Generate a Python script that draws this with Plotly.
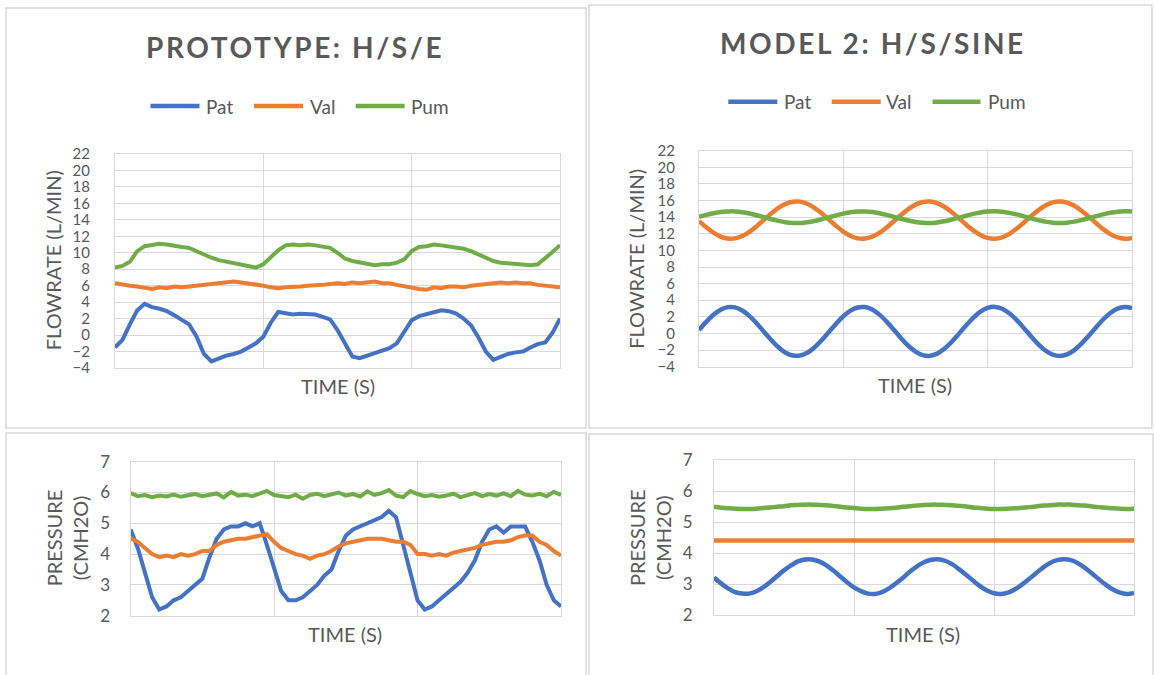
import plotly.graph_objects as go

W, H = 1154, 675

# ---------------- DATA ----------------
series_names = ["Pat", "Val", "Pum"]
series_colors = ["#4472C4", "#ED7D31", "#70AD47"]
chart_titles = ["PROTOTYPE: H/S/E", "MODEL 2: H/S/SINE"]
flow_axis_title = "FLOWRATE (L/MIN)"
pressure_axis_title = "PRESSURE<br>(CMH2O)"
time_axis_title = "TIME (S)"
flow_ticks = [-4, -2, 0, 2, 4, 6, 8, 10, 12, 14, 16, 18, 20, 22]
pressure_ticks = [2, 3, 4, 5, 6, 7]

proto_flow_pat = [-1.5, -0.6, 1.3, 3.0, 3.8, 3.4, 3.2, 2.9, 2.4, 1.9,
                  1.3, -0.2, -2.3, -3.2, -2.8, -2.5, -2.3, -2.0, -1.5, -1.0,
                  -0.2, 1.5, 2.8, 2.6, 2.5, 2.6, 2.6, 2.5, 2.2, 1.9,
                  0.6, -1.0, -2.6, -2.8, -2.5, -2.2, -2.0, -1.6, -1.0, 0.3,
                  1.8, 2.3, 2.5, 2.7, 3.0, 2.9, 2.6, 2.0, 1.2, -0.3,
                  -2.0, -3.0, -2.6, -2.3, -2.1, -2.0, -1.5, -1.1, -0.9, 0.3,
                  2.0]
proto_flow_val = [6.3, 6.1, 6.0, 5.9, 5.8, 5.6, 5.8, 5.7, 5.9, 5.8,
                  5.9, 6.0, 6.1, 6.2, 6.2, 6.4, 6.5, 6.4, 6.3, 6.1,
                  6.0, 5.8, 5.7, 5.8, 5.8, 5.9, 6.0, 6.0, 6.1, 6.2,
                  6.3, 6.2, 6.4, 6.3, 6.4, 6.5, 6.3, 6.3, 6.1, 5.9,
                  5.7, 5.6, 5.5, 5.8, 5.7, 5.9, 5.9, 5.8, 6.0, 6.1,
                  6.2, 6.3, 6.4, 6.3, 6.4, 6.3, 6.3, 6.1, 6.0, 5.9,
                  5.8]
proto_flow_pum = [8.2, 8.4, 8.9, 10.2, 10.8, 11.0, 11.1, 11.0, 10.8, 10.7,
                  10.6, 10.2, 9.7, 9.4, 9.1, 8.9, 8.7, 8.6, 8.3, 8.2,
                  8.6, 9.4, 10.3, 10.9, 11.0, 10.9, 11.0, 10.9, 10.8, 10.6,
                  10.0, 9.3, 9.0, 8.8, 8.6, 8.5, 8.6, 8.6, 8.8, 9.2,
                  10.2, 10.7, 10.8, 11.0, 10.9, 10.8, 10.7, 10.5, 10.2, 9.8,
                  9.3, 9.0, 8.8, 8.7, 8.7, 8.6, 8.5, 8.6, 9.3, 10.1,
                  10.9]

model2_flow_pat = [0.41, 1.39, 2.25, 2.86, 3.17, 3.14, 2.76, 2.09, 1.21, 0.21,
                   -0.79, -1.66, -2.31, -2.65, -2.66, -2.32, -1.68, -0.81, 0.18, 1.18,
                   2.07, 2.75, 3.13, 3.18, 2.88, 2.27, 1.42, 0.44, -0.57, -1.48,
                   -2.18, -2.60, -2.69, -2.43, -1.85, -1.03, -0.05, 0.96, 1.88, 2.62,
                   3.07, 3.20, 2.97, 2.43, 1.63, 0.67, -0.34, -1.28, -2.05, -2.54,
                   -2.70, -2.52, -2.01, -1.23, -0.28, 0.73, 1.68, 2.47, 3.00, 3.20,
                   3.05]
model2_flow_val = [13.53, 12.78, 12.13, 11.66, 11.42, 11.45, 11.73, 12.24, 12.92, 13.68,
                   14.44, 15.11, 15.60, 15.86, 15.87, 15.61, 15.12, 14.46, 13.70, 12.94,
                   12.26, 11.74, 11.45, 11.42, 11.65, 12.11, 12.76, 13.51, 14.27, 14.97,
                   15.51, 15.83, 15.89, 15.69, 15.25, 14.62, 13.88, 13.11, 12.41, 11.85,
                   11.50, 11.40, 11.57, 11.99, 12.60, 13.33, 14.10, 14.82, 15.40, 15.78,
                   15.90, 15.76, 15.37, 14.78, 14.06, 13.29, 12.56, 11.96, 11.56, 11.40,
                   11.51]
model2_flow_pum = [14.04, 14.27, 14.47, 14.62, 14.69, 14.69, 14.60, 14.44, 14.23, 13.99,
                   13.75, 13.55, 13.39, 13.31, 13.31, 13.39, 13.54, 13.75, 13.98, 14.22,
                   14.43, 14.59, 14.68, 14.69, 14.62, 14.48, 14.28, 14.04, 13.81, 13.59,
                   13.42, 13.32, 13.30, 13.37, 13.50, 13.70, 13.93, 14.17, 14.39, 14.56,
                   14.67, 14.70, 14.65, 14.52, 14.33, 14.10, 13.86, 13.64, 13.46, 13.34,
                   13.30, 13.34, 13.46, 13.65, 13.87, 14.11, 14.34, 14.53, 14.65, 14.70,
                   14.67]

proto_pres_pat = [4.8, 4.2, 3.4, 2.6, 2.2, 2.3, 2.5, 2.6, 2.8, 3.0,
                  3.2, 3.9, 4.5, 4.8, 4.9, 4.9, 5.0, 4.9, 5.0, 4.3,
                  3.5, 2.8, 2.5, 2.5, 2.6, 2.8, 3.0, 3.3, 3.5, 4.1,
                  4.6, 4.8, 4.9, 5.0, 5.1, 5.2, 5.4, 5.2, 4.3, 3.4,
                  2.5, 2.2, 2.3, 2.5, 2.7, 2.9, 3.1, 3.4, 3.8, 4.4,
                  4.8, 4.9, 4.7, 4.9, 4.9, 4.9, 4.4, 3.8, 3.0, 2.5,
                  2.3]
proto_pres_val = [4.5, 4.4, 4.2, 4.0, 3.9, 3.95, 3.9, 4.0, 3.95, 4.0,
                  4.1, 4.1, 4.3, 4.4, 4.45, 4.5, 4.5, 4.55, 4.6, 4.65,
                  4.4, 4.2, 4.1, 4.0, 3.95, 3.85, 3.95, 4.0, 4.1, 4.25,
                  4.35, 4.4, 4.45, 4.5, 4.5, 4.5, 4.45, 4.4, 4.4, 4.3,
                  4.0, 4.0, 3.95, 4.0, 3.95, 4.05, 4.1, 4.15, 4.2, 4.3,
                  4.35, 4.4, 4.4, 4.45, 4.55, 4.6, 4.6, 4.4, 4.3, 4.1,
                  3.95]
proto_pres_pum = [5.98, 5.88, 5.92, 5.85, 5.90, 5.87, 5.93, 5.86, 5.91, 5.95,
                  5.88, 5.92, 5.97, 5.84, 6.02, 5.90, 5.93, 5.88, 5.96, 6.05,
                  5.92, 5.88, 5.85, 5.93, 5.80, 5.92, 5.96, 5.88, 5.94, 6.00,
                  5.90, 5.95, 5.87, 6.04, 5.92, 5.98, 6.08, 5.90, 5.85, 6.05,
                  5.95, 5.88, 5.92, 5.86, 5.90, 5.96, 5.85, 5.93, 5.98, 5.88,
                  5.95, 5.90, 5.97, 5.88, 6.05, 5.93, 5.90, 5.96, 5.88, 6.02,
                  5.92]

model2_pres_pat = [3.21, 3.02, 2.86, 2.74, 2.69, 2.69, 2.76, 2.89, 3.06, 3.25,
                   3.44, 3.60, 3.73, 3.79, 3.79, 3.73, 3.61, 3.44, 3.25, 3.06,
                   2.89, 2.77, 2.69, 2.68, 2.74, 2.86, 3.02, 3.20, 3.40, 3.57,
                   3.70, 3.78, 3.80, 3.75, 3.64, 3.48, 3.30, 3.11, 2.93, 2.79,
                   2.70, 2.68, 2.72, 2.83, 2.98, 3.16, 3.35, 3.53, 3.68, 3.77,
                   3.80, 3.77, 3.67, 3.52, 3.34, 3.15, 2.97, 2.82, 2.72, 2.68,
                   2.71]
model2_pres_val = [4.4, 4.4, 4.4, 4.4, 4.4, 4.4, 4.4, 4.4, 4.4, 4.4,
                   4.4, 4.4, 4.4, 4.4, 4.4, 4.4, 4.4, 4.4, 4.4, 4.4,
                   4.4, 4.4, 4.4, 4.4, 4.4, 4.4, 4.4, 4.4, 4.4, 4.4,
                   4.4, 4.4, 4.4, 4.4, 4.4, 4.4, 4.4, 4.4, 4.4, 4.4,
                   4.4, 4.4, 4.4, 4.4, 4.4, 4.4, 4.4, 4.4, 4.4, 4.4,
                   4.4, 4.4, 4.4, 4.4, 4.4, 4.4, 4.4, 4.4, 4.4, 4.4,
                   4.4]
model2_pres_pum = [5.49, 5.46, 5.44, 5.43, 5.42, 5.42, 5.43, 5.45, 5.47, 5.49,
                   5.51, 5.54, 5.55, 5.56, 5.56, 5.55, 5.54, 5.52, 5.49, 5.47,
                   5.45, 5.43, 5.42, 5.42, 5.43, 5.44, 5.46, 5.49, 5.51, 5.53,
                   5.55, 5.56, 5.56, 5.55, 5.54, 5.52, 5.50, 5.47, 5.45, 5.43,
                   5.42, 5.42, 5.43, 5.44, 5.46, 5.48, 5.50, 5.53, 5.54, 5.56,
                   5.56, 5.56, 5.54, 5.53, 5.50, 5.48, 5.46, 5.44, 5.43, 5.42,
                   5.43]

# ---------------- STYLE / LAYOUT ----------------
FONT = "Lato, 'Open Sans', sans-serif"
TXT = "#595959"
GRID = "#D9D9D9"


def px(x):
    return x / W


def py(y):
    return 1 - y / H


fig = go.Figure()

panels = [
    # (suffix, data, smooth, plot box px (l, r, t, b), yticks, line width, label standoff, tick size)
    ("", [proto_flow_pat, proto_flow_val, proto_flow_pum], False, (115, 560, 154, 368), flow_ticks, 4, 21, 15),
    ("2", [model2_flow_pat, model2_flow_val, model2_flow_pum], True, (699, 1132, 150.7, 366.7), flow_ticks, 4.5, 20, 15),
    ("3", [proto_pres_pat, proto_pres_val, proto_pres_pum], False, (130.6, 561, 461.7, 615.7), pressure_ticks, 4, 16, 17),
    ("4", [model2_pres_pat, model2_pres_val, model2_pres_pum], True, (714, 1134, 460, 615), pressure_ticks, 4.5, 17, 17),
]

layout_axes = {}
for suf, data, smooth, (l, r, t, b), yt, lw, stand, tsize in panels:
    xname = "x" + suf
    yname = "y" + suf
    n = len(data[0])
    for name, col, vals in zip(series_names, series_colors, data):
        fig.add_trace(go.Scatter(
            x=list(range(len(vals))), y=vals, name=name, mode="lines",
            line=dict(color=col, width=lw, shape="spline" if smooth else "linear"),
            xaxis=xname, yaxis=yname, showlegend=False,
        ))
    layout_axes["xaxis" + suf] = dict(
        domain=[px(l), px(r)], anchor=yname, range=[0, n - 1],
        tickvals=[0, (n - 1) / 3, 2 * (n - 1) / 3, n - 1], showticklabels=False,
        showgrid=True, gridcolor=GRID, gridwidth=1, zeroline=False,
        showline=True, linecolor=GRID, linewidth=1, mirror=True, ticks="",
        fixedrange=True, automargin=False,
    )
    layout_axes["yaxis" + suf] = dict(
        domain=[py(b), py(t)], anchor=xname, range=[yt[0], yt[-1]],
        tickvals=yt, showgrid=True, gridcolor=GRID, gridwidth=1, zeroline=False,
        showline=True, linecolor=GRID, linewidth=1, mirror=True, ticks="",
        tickfont=dict(family=FONT, size=tsize, color=TXT),
        ticklabelstandoff=stand, fixedrange=True, automargin=False,
    )

annotations = []
# chart titles
for title, (cx, cy) in zip(chart_titles, [(295, 47.3), (873, 43)]):
    annotations.append(dict(
        text='<b><span style="letter-spacing:2.6px">' + title + '</span></b>',
        x=px(cx), y=py(cy), xref="paper", yref="paper", showarrow=False,
        xanchor="center", yanchor="middle",
        font=dict(family=FONT, size=28, color=TXT),
    ))
# axis titles
for text, (cx, cy) in [(flow_axis_title, (52.7, 260.5)), (flow_axis_title, (635.8, 259)),
                       (pressure_axis_title, (66.8, 537.5)), (pressure_axis_title, (649.5, 537.5))]:
    annotations.append(dict(
        text=text, x=px(cx), y=py(cy), xref="paper", yref="paper", showarrow=False,
        xanchor="center", yanchor="middle", textangle=-90, align="center",
        font=dict(family=FONT, size=20, color=TXT),
    ))
for cx, cy in [(338, 386.5), (914.6, 385), (345.3, 634.3), (923, 634.3)]:
    annotations.append(dict(
        text=time_axis_title, x=px(cx), y=py(cy), xref="paper", yref="paper",
        showarrow=False, xanchor="center", yanchor="middle",
        font=dict(family=FONT, size=20, color=TXT),
    ))

shapes = []
# legends (drawn with line keys + text)
legend_specs = [
    (106, [(150.5, 199.5, 205), (254, 303, 309), (355.7, 404.6, 410)]),
    (101.7, [(728.3, 777.3, 782.7), (831.7, 880.7, 885.4), (932.6, 980.5, 987)]),
]
for ly, items in legend_specs:
    for (x0, x1, tx), name, col in zip(items, series_names, series_colors):
        shapes.append(dict(type="line", xref="paper", yref="paper",
                           x0=px(x0), x1=px(x1), y0=py(ly), y1=py(ly),
                           line=dict(color=col, width=4.5)))
        annotations.append(dict(
            text=name, x=px(tx), y=py(ly), xref="paper", yref="paper",
            showarrow=False, xanchor="left", yanchor="middle", borderpad=0,
            font=dict(family=FONT, size=19, color=TXT),
        ))

# panel frames
for (l, r, t, b) in [(6, 586, 8, 428), (589, 1152, 5, 428), (6, 586, 433, 676), (589, 1153, 434, 676)]:
    shapes.append(dict(type="rect", xref="paper", yref="paper",
                       x0=px(l), x1=px(r), y0=py(b), y1=py(t),
                       line=dict(color=GRID, width=1.5), layer="below"))

fig.update_layout(
    width=W, height=H, margin=dict(l=0, r=0, t=0, b=0, pad=0, autoexpand=False),
    paper_bgcolor="white", plot_bgcolor="white",
    showlegend=False, annotations=annotations, shapes=shapes,
    font=dict(family=FONT, color=TXT),
    **layout_axes,
)

fig.write_html(
    "out.html",
    config={"displayModeBar": False},
    post_script=(
        "var gd = document.getElementById('{plot_id}');"
        "gd.style.position = 'fixed'; gd.style.top = '0px'; gd.style.left = '0px';"
        "document.body.style.margin = '0';"
        "document.documentElement.style.overflow = 'hidden';"
    ),
)
